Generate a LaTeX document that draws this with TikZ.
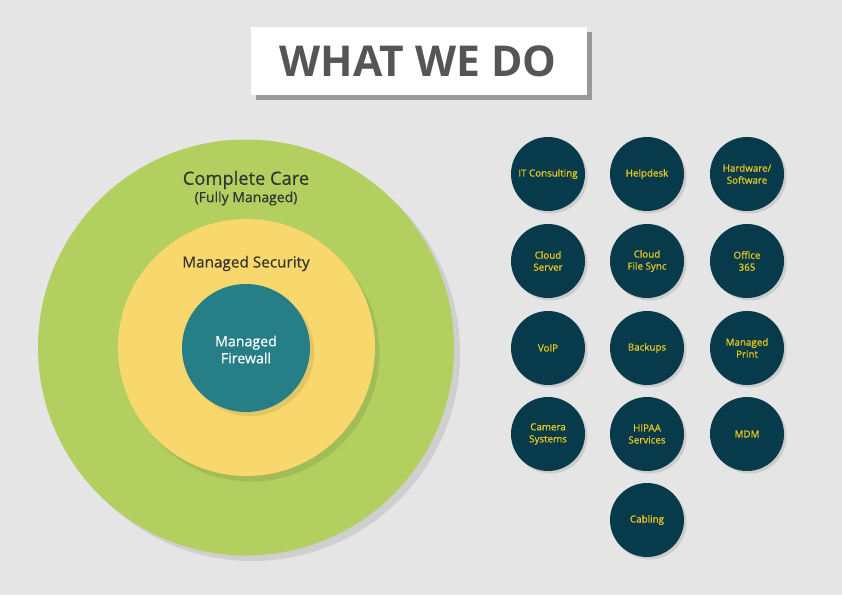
\documentclass[tikz,border=0pt]{standalone}
\usepackage{fontspec}
\setmainfont{Open Sans}
\newfontfamily\semib[FakeBold=1]{Open Sans}
\newfontfamily\medw[FakeBold=0.4]{Open Sans}
\definecolor{bg}{HTML}{E5E5E5}
\definecolor{cgreen}{HTML}{B2CF5F}
\definecolor{cgreensh}{HTML}{A2BD57}
\definecolor{cyellow}{HTML}{F8D86C}
\definecolor{cyellowsh}{HTML}{E2C565}
\definecolor{cteal}{HTML}{267F87}
\definecolor{cnavy}{HTML}{073A4A}
\definecolor{ctxt}{HTML}{E9C81C}
\definecolor{cdark}{HTML}{333333}
\definecolor{ctitle}{HTML}{555555}
\definecolor{cgreysh}{HTML}{CFCFCF}
\definecolor{csmallsh}{HTML}{CCCCCC}
\tikzset{
  svc/.style={circle, fill=cnavy, minimum size=74pt, inner sep=0pt, text=ctxt,
    align=center, font=\semib\fontsize{9.8}{12}\selectfont},
  svcsh/.style={circle, fill=csmallsh, minimum size=74pt, inner sep=0pt},
}
\begin{document}
\begin{tikzpicture}[x=1pt,y=-1pt]
\fill[bg] (0,0) rectangle (842,595);
\useasboundingbox (0,0) rectangle (842,595);
% title
\fill[black!40] (256,32) rectangle (592,100);
\node[fill=white, minimum width=336pt, minimum height=68pt, inner sep=0pt, anchor=north west] (titlebox) at (251,27) {};
\node[text=ctitle, font=\bfseries\fontsize{42.5}{48}\selectfont] (title) at (418,61) {WHAT WE DO};
% concentric circles
\fill[cgreysh] (252,353) circle (208);
\node[circle, fill=cgreen, minimum size=416pt, inner sep=0pt] (care) at (246,347.5) {};
\fill[cgreensh] (251,353) circle (128.5);
\node[circle, fill=cyellow, minimum size=257pt, inner sep=0pt] (sec) at (246.5,347.5) {};
\fill[cyellowsh] (250,352) circle (64);
\node[circle, fill=cteal, minimum size=128pt, inner sep=0pt] (fw) at (246,348) {};
\node[text=cdark, font=\medw\fontsize{18.3}{21}\selectfont] (caret) at (246,180) {Complete Care};
\node[text=cdark, font=\medw\fontsize{14}{16}\selectfont] (caresub) at (246,198.5) {(Fully Managed)};
\node[text=cdark, font=\medw\fontsize{15.3}{18}\selectfont] (sect) at (246,263.5) {Managed Security};
\node[text=white, align=center, font=\medw\fontsize{14.2}{17}\selectfont] (fwt) at (246,349.5) {Managed\\Firewall};
% service circles
\foreach \x/\y/\n/\t in {
  548/174/itc/{IT Consulting},
  647/174/help/{Helpdesk},
  747/174/hw/{Hardware/\\Software},
  548/261/cs/{Cloud\\Server},
  647/261/cfs/{Cloud\\File Sync},
  747/261/o365/{Office\\365},
  548/348/voip/{VoIP},
  647/348/bk/{Backups},
  747/348/mp/{Managed\\Print},
  548/434/cam/{Camera\\Systems},
  647/434/hip/{HIPAA\\Services},
  747/434/mdm/{MDM},
  647/520/cab/{Cabling}} {
  \node[svcsh] at (\x+2.5,\y+2.5) {};
  \node[svc] (\n) at (\x,\y) {\t};
}
\end{tikzpicture}
\end{document}
